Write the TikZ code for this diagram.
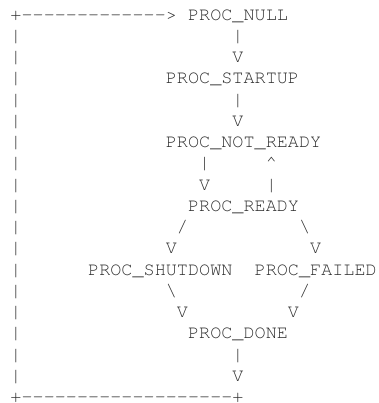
\documentclass[tikz,border=0pt]{standalone}
\usepackage{fontspec}
\newfontfamily\asciifont{texgyrecursor-regular.otf}
\begin{document}
\begin{tikzpicture}[x=11.1pt, y=-21.25pt,
  t/.style={anchor=base west, inner sep=0pt, outer sep=0pt,
    font=\asciifont\fontsize{18.5}{21.3}\selectfont, text=black!82}]
\useasboundingbox (0pt,0pt) rectangle (378pt,-403pt);
\begin{scope}[shift={(10.45pt,-20.2pt)}]
  % row 0
  \node[t] (topline) at (0,0) {+------------->};
  \node[t] (null) at (16,0) {PROC\_NULL};
  % left return line
  \foreach \r in {1,...,17} \node[t] (bar\r) at (0,\r) {|};
  \node[t] (a1) at (20,1) {|};
  \node[t] (a2) at (20,2) {V};
  \node[t] (startup) at (14,3) {PROC\_STARTUP};
  \node[t] (b1) at (20,4) {|};
  \node[t] (b2) at (20,5) {V};
  \node[t] (notready) at (14,6) {PROC\_NOT\_READY};
  \node[t] (c1) at (17,7) {|};
  \node[t] (d1) at (23,7) {\textasciicircum};
  \node[t] (c2) at (17,8) {V};
  \node[t] (d2) at (23,8) {|};
  \node[t] (ready) at (16,9) {PROC\_READY};
  \node[t] (e1) at (15,10) {/};
  \node[t] (f1) at (26,10) {\textbackslash};
  \node[t] (e2) at (14,11) {V};
  \node[t] (f2) at (27,11) {V};
  \node[t] (shutdown) at (7,12) {PROC\_SHUTDOWN};
  \node[t] (failed) at (22,12) {PROC\_FAILED};
  \node[t] (g1) at (14,13) {\textbackslash};
  \node[t] (h1) at (26,13) {/};
  \node[t] (g2) at (15,14) {V};
  \node[t] (h2) at (25,14) {V};
  \node[t] (done) at (16,15) {PROC\_DONE};
  \node[t] (i1) at (20,16) {|};
  \node[t] (i2) at (20,17) {V};
  \node[t] (bottomline) at (0,18) {+-------------------+};
\end{scope}
\end{tikzpicture}
\end{document}
